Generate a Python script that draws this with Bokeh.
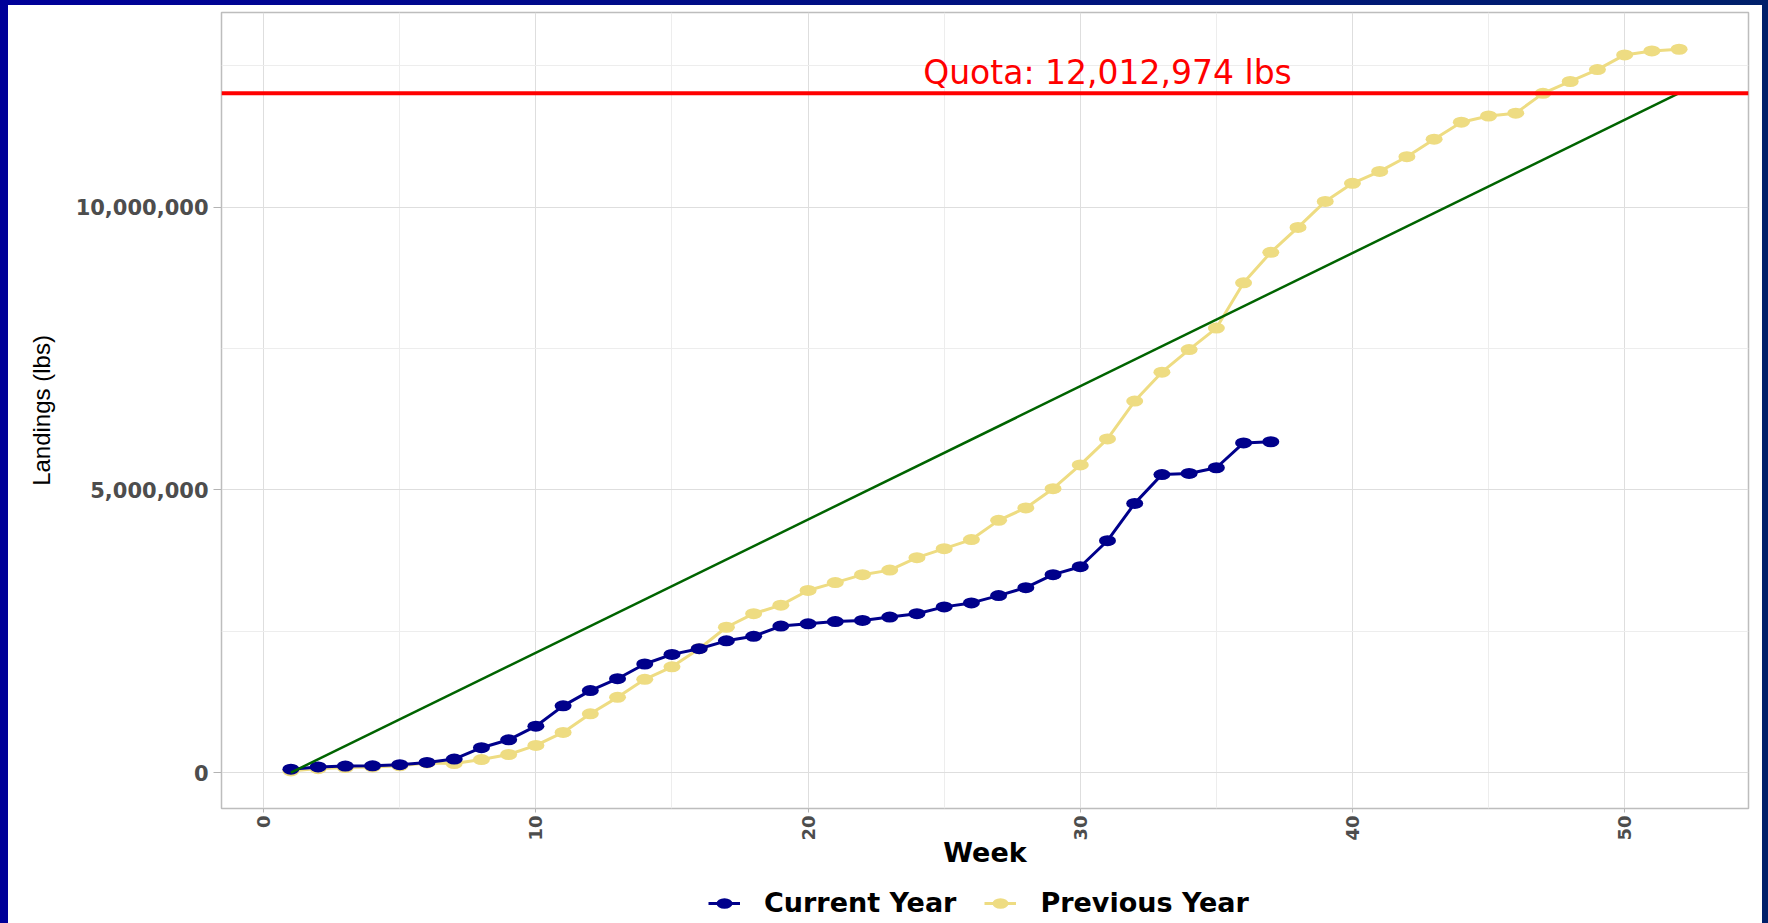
import math
from bokeh.plotting import figure
from bokeh.layouts import column
from bokeh.models import FixedTicker, NumeralTickFormatter, Legend, LegendItem, Span
from bokeh.core.properties import value
from bokeh.embed import file_html
from bokeh.resources import INLINE

# ---------------- data ----------------
weeks_current = list(range(1, 38))
landings_current = [
    60000, 100000, 115000, 120000, 140000, 180000, 240000, 440000, 580000, 820000,
    1180000, 1450000, 1660000, 1920000, 2090000, 2190000, 2330000, 2410000, 2590000, 2630000,
    2670000, 2690000, 2750000, 2810000, 2930000, 3000000, 3130000, 3270000, 3500000, 3640000,
    4100000, 4760000, 5270000, 5290000, 5390000, 5830000, 5850000,
]

weeks_previous = list(range(1, 53))
landings_previous = [
    30000, 70000, 90000, 100000, 120000, 170000, 160000, 230000, 320000, 480000,
    710000, 1040000, 1330000, 1650000, 1870000, 2190000, 2570000, 2810000, 2960000, 3220000,
    3360000, 3500000, 3580000, 3800000, 3960000, 4120000, 4460000, 4680000, 5020000, 5440000,
    5900000, 6570000, 7080000, 7480000, 7860000, 8660000, 9200000, 9640000, 10100000, 10420000,
    10630000, 10890000, 11200000, 11500000, 11610000, 11660000, 12010000, 12220000, 12430000, 12690000,
    12760000, 12790000,
]

quota = 12012974
quota_label = "Quota: 12,012,974 lbs"
pace_weeks = [1, 52]
pace_landings = [0, quota]

x_ticks = [0, 10, 20, 30, 40, 50]
x_minor = [5, 15, 25, 35, 45]
y_ticks = [0, 5000000, 10000000]
y_minor = [2500000, 7500000, 12500000]

series_names = ["Current Year", "Previous Year"]
x_title = "Week"
y_title = "Landings (lbs)"

# ---------------- styles ----------------
NAVY = "#00008B"
GOLD = "#EEDC82"
GREEN = "#006400"
RED = "#FF0000"
BOLD_FONT = "DejaVu Sans"
TEXT_FONT = "Liberation Sans"
PAGE_BG = ("linear-gradient(90deg, #000099, #00206a) top left / 100% 5px no-repeat, "
           "linear-gradient(90deg, #000099 0px, #000099 8px, #ffffff 8px, "
           "#ffffff calc(100% - 6px), #00206a calc(100% - 6px), #00206a 100%)")

chart = figure(
    width=1754, height=865,
    x_range=(-1.55, 54.55), y_range=(-635000, 13440000),
    output_backend="svg", toolbar_location=None,
    min_border_left=213, min_border_right=14, min_border_top=7, min_border_bottom=60,
    background_fill_color="white", border_fill_color="white",
    margin=(5, 6, 0, 8),
)
chart.outline_line_color = "#BDBDBD"
chart.outline_line_width = 1.5

# axes
chart.xaxis.ticker = FixedTicker(ticks=x_ticks, minor_ticks=x_minor)
chart.yaxis.ticker = FixedTicker(ticks=y_ticks, minor_ticks=y_minor)
chart.yaxis.formatter = NumeralTickFormatter(format="0,0")
for ax in (chart.xaxis, chart.yaxis):
    ax.axis_line_color = None
    ax.minor_tick_line_color = None
    ax.major_tick_line_color = "#B3B3B3"
    ax.major_tick_in = 0
    ax.major_label_text_font = BOLD_FONT
    ax.major_label_text_font_style = "bold"
    ax.major_label_text_color = "#4D4D4D"
chart.yaxis.major_tick_out = 8
chart.xaxis.major_tick_out = 4
chart.yaxis.major_label_text_font_size = "21px"
chart.xaxis.major_label_text_font_size = "18px"
chart.xaxis.major_label_orientation = math.pi / 2
chart.xaxis.major_label_standoff = 3
chart.yaxis.major_label_standoff = 5

chart.xaxis.axis_label = x_title
chart.xaxis.axis_label_text_font = BOLD_FONT
chart.xaxis.axis_label_text_font_style = "bold"
chart.xaxis.axis_label_text_font_size = "27px"
chart.xaxis.axis_label_text_color = "black"
chart.xaxis.axis_label_standoff = -7

chart.yaxis.axis_label = y_title
chart.yaxis.axis_label_text_font = TEXT_FONT
chart.yaxis.axis_label_text_font_style = "normal"
chart.yaxis.axis_label_text_font_size = "24px"
chart.yaxis.axis_label_text_color = "black"
chart.yaxis.axis_label_standoff = 18

# grid
for g in (chart.xgrid, chart.ygrid):
    g.grid_line_color = "#DEDEDE"
    g.grid_line_width = 1
    g.minor_grid_line_color = "#EDEDED"
    g.minor_grid_line_width = 1

def add_series(fig, weeks, landings, color):
    ln = fig.line(weeks, landings, line_color=color, line_width=3)
    pts = fig.ellipse(x=weeks, y=landings, width=17, height=11,
                      width_units="screen", height_units="screen",
                      fill_color=color, line_color=None)
    return ln, pts

add_series(chart, weeks_previous, landings_previous, GOLD)
add_series(chart, weeks_current, landings_current, NAVY)
chart.line(pace_weeks, pace_landings, line_color=GREEN, line_width=2.5)

chart.add_layout(Span(location=quota, dimension="width", line_color=RED, line_width=4))
chart.text(x=[31], y=[quota], text=[quota_label], text_color=RED,
           text_font=value("DejaVu Sans"), text_font_size="33px",
           text_align="center", text_baseline="bottom", y_offset=-1)

# ---------------- legend strip (below the chart) ----------------
key = figure(
    width=1754, height=53, x_range=(0, 1), y_range=(0, 1),
    x_axis_type=None, y_axis_type=None,
    output_backend="svg", toolbar_location=None,
    min_border=0, background_fill_color="white", border_fill_color="white",
    margin=(0, 6, 0, 8),
)
key.outline_line_color = None
key.grid.visible = False
k_prev_line, k_prev_pts = add_series(key, weeks_previous, landings_previous, GOLD)
k_cur_line, k_cur_pts = add_series(key, weeks_current, landings_current, NAVY)

legend = Legend(
    items=[
        LegendItem(label=series_names[0], renderers=[k_cur_line, k_cur_pts]),
        LegendItem(label=series_names[1], renderers=[k_prev_line, k_prev_pts]),
    ],
    orientation="horizontal", location=(487, 5),
    border_line_color=None, background_fill_color=None, background_fill_alpha=0,
    label_text_font=BOLD_FONT, label_text_font_style="bold",
    label_text_font_size="27px", label_text_color="black",
    glyph_width=32, glyph_height=20, label_standoff=24, spacing=28,
    padding=4, margin=0,
)
key.add_layout(legend, "center")

p = column(chart, key, spacing=0, styles={"background": PAGE_BG})

open("out.html", "w").write(file_html(p, INLINE))
